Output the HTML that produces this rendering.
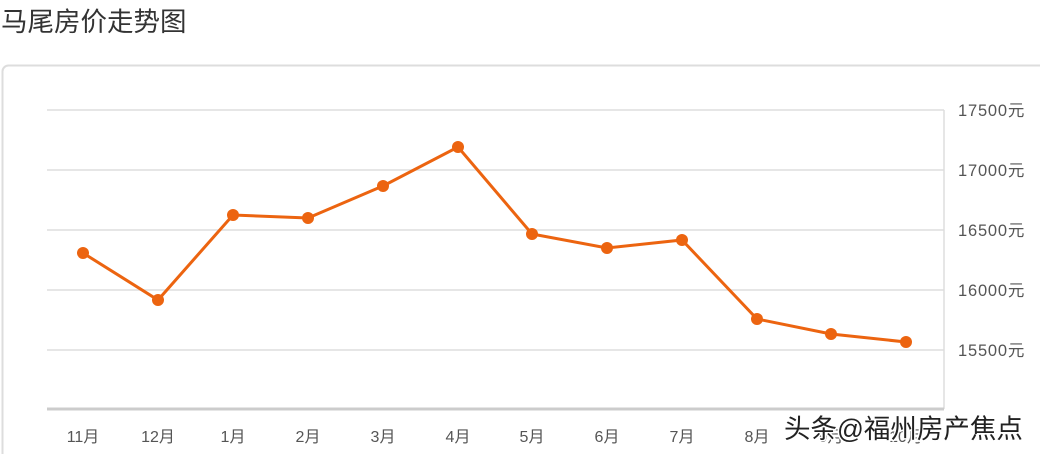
<!DOCTYPE html>
<html><head><meta charset="utf-8"><style>
html,body{margin:0;padding:0;background:#fff;width:1040px;height:454px;overflow:hidden}
</style></head><body>
<svg width="1040" height="454" xmlns="http://www.w3.org/2000/svg" font-family="Liberation Sans, Noto Sans CJK SC, sans-serif">
<text x="1" y="31" font-size="26.5" fill="#333">马尾房价走势图</text>
<rect x="2.5" y="65.5" width="1045" height="400" rx="6" fill="#fff" stroke="#ddd" stroke-width="2"/>
<g stroke="#ddd" stroke-width="1.5">
<line x1="47" y1="110" x2="944" y2="110"/>
<line x1="47" y1="170" x2="944" y2="170"/>
<line x1="47" y1="230" x2="944" y2="230"/>
<line x1="47" y1="290" x2="944" y2="290"/>
<line x1="47" y1="350" x2="944" y2="350"/>
<line x1="944" y1="110" x2="944" y2="409"/>
</g>
<line x1="47" y1="409" x2="944" y2="409" stroke="#ccc" stroke-width="3"/>
<g font-size="16.5" fill="#555" letter-spacing="0.8">
<text x="958" y="116">17500元</text>
<text x="958" y="176">17000元</text>
<text x="958" y="236">16500元</text>
<text x="958" y="296">16000元</text>
<text x="958" y="356">15500元</text>
</g>
<g font-size="16" fill="#555" text-anchor="middle">
<text x="83" y="442">11月</text><text x="158" y="442">12月</text><text x="233" y="442">1月</text>
<text x="308" y="442">2月</text><text x="383" y="442">3月</text><text x="458" y="442">4月</text>
<text x="532" y="442">5月</text><text x="607" y="442">6月</text><text x="682" y="442">7月</text>
<text x="757" y="442">8月</text><text x="831" y="442">9月</text><text x="906" y="442">10月</text>
</g>
<polyline fill="none" stroke="#ec6410" stroke-width="3" points="83,253 158,300 233,215 308,218 383,186 458,147 532,234 607,248 682,240 757,319 831,334 906,342"/>
<g fill="#ec6410">
<circle cx="83" cy="253" r="6"/><circle cx="158" cy="300" r="6"/><circle cx="233" cy="215" r="6"/>
<circle cx="308" cy="218" r="6"/><circle cx="383" cy="186" r="6"/><circle cx="458" cy="147" r="6"/>
<circle cx="532" cy="234" r="6"/><circle cx="607" cy="248" r="6"/><circle cx="682" cy="240" r="6"/>
<circle cx="757" cy="319" r="6"/><circle cx="831" cy="334" r="6"/><circle cx="906" cy="342" r="6"/>
</g>
<text x="784" y="438" font-size="26.5" fill="#222" stroke="#fff" stroke-width="3" paint-order="stroke">头条@福州房产焦点</text>
</svg>
</body></html>
